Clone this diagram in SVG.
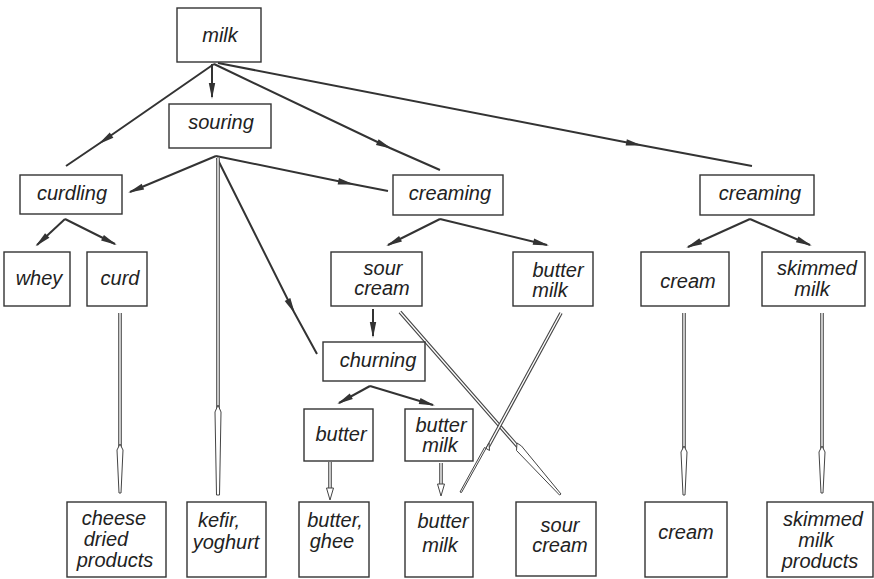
<svg xmlns="http://www.w3.org/2000/svg" width="874" height="579" viewBox="0 0 874 579">
<defs>
<style>
.b{fill:#fff;stroke:#333;stroke-width:1.4}
.t{font-family:"Liberation Sans",Arial,sans-serif;font-style:italic;font-size:20px;fill:#222;text-anchor:middle}
.d{fill:none;stroke:#333;stroke-width:2}
.dm{fill:none;stroke:#333;stroke-width:2;marker-mid:url(#ah)}
.de{fill:none;stroke:#333;stroke-width:2;marker-end:url(#ah)}
.o{fill:none;stroke:#444;stroke-width:3.6}
.i{fill:none;stroke:#fff;stroke-width:1.4}
.h{fill:#fff;stroke:#444;stroke-width:1}
</style>
<marker id="ah" markerUnits="userSpaceOnUse" orient="auto" markerWidth="20" markerHeight="10" refX="0" refY="0" viewBox="-16 -5 20 10" overflow="visible">
<path d="M2,0 L-14,-3.2 L-14,3.2 Z" fill="#333"/>
</marker>
</defs>
<rect width="874" height="579" fill="#fff"/>
<g id="connectors">
<polyline class="de" points="212,64 212,97"/>
<polyline class="dm" points="214,64 100,143 66,166"/>
<polyline class="dm" points="214,64 390,148 440,170"/>
<polyline class="dm" points="218,63 640,145 752,166"/>
<polyline class="de" points="216,156 130,192"/>
<polyline class="dm" points="216,156 352,184 388,191"/>
<polyline class="dm" points="217,158 294,312 317,354"/>
<polyline class="de" points="65,219 37,245"/>
<polyline class="de" points="65,219 115,244"/>
<polyline class="de" points="440,219 388,245"/>
<polyline class="de" points="440,219 547,245"/>
<polyline class="de" points="750,219 688,247"/>
<polyline class="de" points="750,219 810,245"/>
<polyline class="de" points="373,309 373,336"/>
<polyline class="de" points="370,386 339,403"/>
<polyline class="de" points="370,386 433,405"/>
<line class="o" x1="120" y1="313" x2="120" y2="450"/><line class="i" x1="120" y1="313" x2="120" y2="450"/>
<polygon class="h" points="117,450 120,444 123,450 121,493 119,493"/>
<line class="o" x1="218" y1="158" x2="218" y2="412"/><line class="i" x1="218" y1="158" x2="218" y2="412"/>
<polygon class="h" points="215,412 218,405 221,412 219.5,495 216.5,495"/>
<line class="o" x1="330" y1="462" x2="330" y2="488"/><line class="i" x1="330" y1="462" x2="330" y2="488"/>
<polygon class="h" points="326.5,488 333.5,488 330,500"/>
<line class="o" x1="441" y1="463" x2="441" y2="484"/><line class="i" x1="441" y1="463" x2="441" y2="484"/>
<polygon class="h" points="437.5,484 444.5,484 441,496"/>
<line class="o" x1="684" y1="313" x2="684" y2="452"/><line class="i" x1="684" y1="313" x2="684" y2="452"/>
<polygon class="h" points="681,452 684,446 687,452 685,495 683,495"/>
<line class="o" x1="822" y1="313" x2="822" y2="452"/><line class="i" x1="822" y1="313" x2="822" y2="452"/>
<polygon class="h" points="819,452 822,446 825,452 823,493 821,493"/>
<line class="o" x1="400" y1="312" x2="519" y2="448"/><line class="i" x1="400" y1="312" x2="519" y2="448"/>
<polygon class="h" points="516.5,450.5 517,443 521.5,446 561,494 559.5,495"/>
<line class="o" x1="561" y1="313" x2="487" y2="449"/><line class="i" x1="561" y1="313" x2="487" y2="449"/>
<polygon class="h" points="484.5,447.5 489.5,450.5 489,443 461.5,492.5 460,492"/>
</g>
<g id="milk"><rect class="b" x="177" y="8" width="84" height="54"/><text class="t" x="220" y="42">milk</text></g>
<g id="souring"><rect class="b" x="169" y="104" width="102" height="44"/><text class="t" x="221" y="129">souring</text></g>
<g id="curdling"><rect class="b" x="20" y="175" width="102" height="39"/><text class="t" x="72" y="200">curdling</text></g>
<g id="creaming1"><rect class="b" x="393" y="175" width="110" height="40"/><text class="t" x="450" y="200">creaming</text></g>
<g id="creaming2"><rect class="b" x="700" y="175" width="114" height="40"/><text class="t" x="760" y="200">creaming</text></g>
<g id="whey"><rect class="b" x="4" y="252" width="66" height="54"/><text class="t" x="39" y="285">whey</text></g>
<g id="curd"><rect class="b" x="87" y="252" width="60" height="54"/><text class="t" x="120" y="285">curd</text></g>
<g id="sourcream1"><rect class="b" x="331" y="252" width="91" height="54"/><text class="t" x="383" y="275">sour</text><text class="t" x="382" y="295">cream</text></g>
<g id="buttermilk1"><rect class="b" x="513" y="252" width="80" height="54"/><text class="t" x="558" y="277">butter</text><text class="t" x="550" y="297">milk</text></g>
<g id="cream1"><rect class="b" x="641" y="252" width="88" height="54"/><text class="t" x="688" y="288">cream</text></g>
<g id="skimmedmilk"><rect class="b" x="762" y="252" width="103" height="54"/><text class="t" x="817" y="275">skimmed</text><text class="t" x="812" y="296">milk</text></g>
<g id="churning"><rect class="b" x="323" y="342" width="102" height="39"/><text class="t" x="378" y="367">churning</text></g>
<g id="butter"><rect class="b" x="304" y="409" width="69" height="52"/><text class="t" x="341" y="441">butter</text></g>
<g id="buttermilk2"><rect class="b" x="405" y="409" width="68" height="52"/><text class="t" x="441" y="432">butter</text><text class="t" x="440" y="452">milk</text></g>
<g id="cheese"><rect class="b" x="67" y="502" width="99" height="75"/><text class="t" x="114" y="525">cheese</text><text class="t" x="106" y="546">dried</text><text class="t" x="115" y="567">products</text></g>
<g id="kefir"><rect class="b" x="187" y="502" width="79" height="75"/><text class="t" x="219" y="527">kefir,</text><text class="t" x="226" y="549">yoghurt</text></g>
<g id="butterghee"><rect class="b" x="299" y="502" width="70" height="75"/><text class="t" x="335" y="527">butter,</text><text class="t" x="332" y="548">ghee</text></g>
<g id="buttermilk3"><rect class="b" x="405" y="502" width="68" height="75"/><text class="t" x="443" y="528">butter</text><text class="t" x="440" y="552">milk</text></g>
<g id="sourcream2"><rect class="b" x="516" y="502" width="80" height="74"/><text class="t" x="560" y="532">sour</text><text class="t" x="560" y="552">cream</text></g>
<g id="cream2"><rect class="b" x="645" y="502" width="82" height="75"/><text class="t" x="686" y="539">cream</text></g>
<g id="skimmedproducts"><rect class="b" x="767" y="502" width="106" height="75"/><text class="t" x="823" y="526">skimmed</text><text class="t" x="816" y="547">milk</text><text class="t" x="820" y="568">products</text></g>
</svg>
